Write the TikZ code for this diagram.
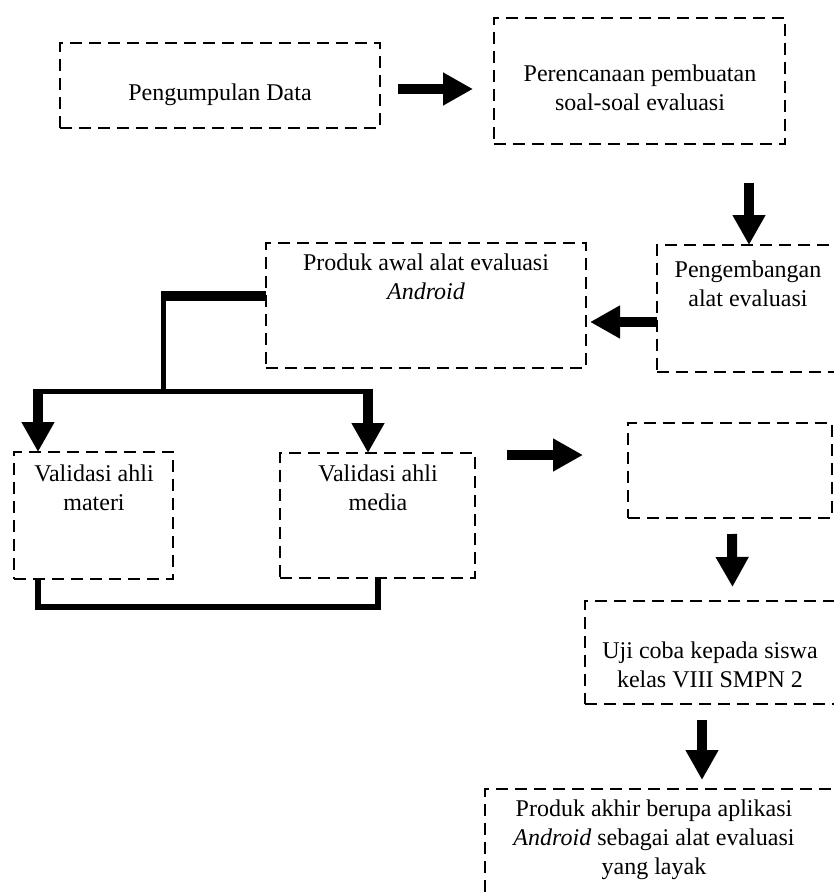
\documentclass[tikz,border=0pt]{standalone}
\usepackage{fontspec}
\setmainfont{Liberation Serif}
\usetikzlibrary{arrows.meta,calc}
\begin{document}
\begin{tikzpicture}[x=1pt,y=-1pt,
 box/.style={draw, dash pattern=on 12pt off 7pt, line width=2pt, rectangle, inner sep=0pt, outer sep=0pt, anchor=north west},
 txt/.style={align=center, font=\fontsize{24}{29}\selectfont, inner sep=0pt},
 arr/.style={line width=10pt, -{Triangle[length=30pt,width=31pt]}},
 thinline/.style={line width=5pt},
 thickline/.style={line width=10pt}]
\useasboundingbox (0,0) rectangle (834,894);
\clip (0,0) rectangle (834,894);
% boxes
\node[box, minimum width=320pt, minimum height=85pt]  (b1) at (60,43)   {};
\node[box, minimum width=291pt, minimum height=126pt] (b2) at (494,18)  {};
\node[box, minimum width=184pt, minimum height=127pt] (b3) at (657,245) {};
\node[box, minimum width=320pt, minimum height=125pt] (b4) at (266,243) {};
\node[box, minimum width=159pt, minimum height=127pt] (b5) at (14,452)  {};
\node[box, minimum width=195pt, minimum height=125pt] (b6) at (280,453) {};
\node[box, minimum width=204pt, minimum height=95pt]  (b7) at (628,423) {};
\node[box, minimum width=254pt, minimum height=103pt] (b8) at (585,601) {};
\node[box, minimum width=360pt, minimum height=120pt] (b9) at (485,789) {};
% texts
\node[txt] (t1) at (220,95)    {Pengumpulan Data};
\node[txt] (t2) at (640,87.5)  {Perencanaan pembuatan\\soal-soal evaluasi};
\node[txt] (t3) at (748,283.5) {Pengembangan\\alat evaluasi};
\node[txt] (t4) at (426,277)   {Produk awal alat evaluasi\\\textit{Android}};
\node[txt] (t5) at (94,488)    {Validasi ahli\\materi};
\node[txt] (t6) at (378,488)   {Validasi ahli\\media};
\node[txt] (t8) at (710,665)   {Uji coba kepada siswa\\kelas VIII SMPN 2};
\node[txt] (t9) at (654,840)   {Produk akhir berupa aplikasi\\\textit{Android} sebagai alat evaluasi\\yang layak};
% arrows
\draw[arr] ($(b1.east)+(18,3.5)$) -- ($(b2.west)+(-21,8)$);
\draw[arr] ($(b3.north)+(0,-62)$) -- (b3.north);
\draw[arr] ($(b3.west)+(0,13.5)$) -- ($(b4.east)+(4,16.5)$);
% branch to validations
\coordinate (j1) at (163,296);
\coordinate (j2) at (163,391);
\coordinate (k5) at (38,391);
\coordinate (k6) at (368,391);
\draw[thickline] ($(b4.west)+(0,-9.5)$) -- ($(j1)+(-2.5,0)$);
\draw[thinline] ($(j1)+(0,-5)$) -- (j2);
\draw[thinline] ($(k5)+(-5,0)$) -- ($(k6)+(5,0)$);
\draw[arr] ($(k5)+(0,-2.5)$) -- (k5 |- b5.north);
\draw[arr] ($(k6)+(0,-2.5)$) -- (k6 |- b6.north);
% bottom joining line
\coordinate (m5) at (38,607);
\coordinate (m6) at (378,607);
\draw[line width=6pt, line join=miter] (m5 |- b5.south) -- (m5) -- (m6) -- (m6 |- b6.south);
% right-hand arrows
\draw[arr] ($(b6.east)+(32,-60.5)$) -- ($(b7.west)+(-45,-15.5)$);
\draw[arr] ($(b7.south)+(2,16)$) -- ($(b8.north)+(20.5,-14)$);
\draw[arr] ($(b8.south)+(-10,16)$) -- ($(b9.north)+(37,-9)$);
\end{tikzpicture}
\end{document}
